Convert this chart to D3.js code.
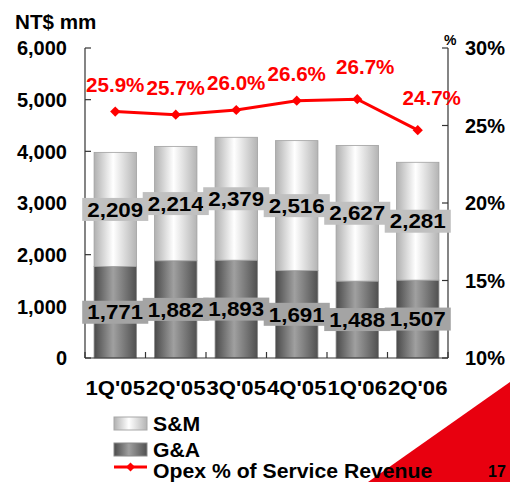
<!DOCTYPE html>
<html><head><meta charset="utf-8">
<script src="https://cdn.jsdelivr.net/npm/d3@7"></script>
<style>
html,body{margin:0;padding:0;background:#fff;}
svg{display:block;font-family:"Liberation Sans",Arial,sans-serif;font-weight:bold;}
</style></head>
<body>
<svg id="c" width="510" height="482"></svg>
<script>
// ---- data ----
const categories = ["1Q'05","2Q'05","3Q'05","4Q'05","1Q'06","2Q'06"];
const gaValues = [1771,1882,1893,1691,1488,1507];
const smValues = [2209,2214,2379,2516,2627,2281];
const opexPct = [25.9,25.7,26.0,26.6,26.7,24.7];
const leftTicks = [0,1000,2000,3000,4000,5000,6000];
const rightTicks = [10,15,20,25,30];

// ---- layout ----
const L = 85, R = 448, T = 48, B = 358;
const pctLabelDx = [0,0,0,0,8,14];
const pctLabelDy = [-20,-20,-20,-20,-25,-25];

const svg = d3.select("#c");
const defs = svg.append("defs");
function grad(id, stops){
  const g = defs.append("linearGradient").attr("id",id).attr("x1","0").attr("x2","1").attr("y1","0").attr("y2","0");
  stops.forEach(s=>g.append("stop").attr("offset",s[0]).attr("stop-color",s[1]));
}
grad("gSM",[[0,"#b0b0b0"],[0.45,"#ffffff"],[1,"#b4b4b4"]]);
grad("gGA",[[0,"#4a4a4a"],[0.45,"#a0a0a0"],[1,"#505050"]]);

function stretch(sel, f){
  sel.each(function(){
    const n = this; const w = n.getComputedTextLength();
    d3.select(n).attr("textLength", w*f).attr("lengthAdjust","spacingAndGlyphs");
  });
}

const x = d3.scaleBand().domain(categories).range([L,R]).paddingInner(0.3).paddingOuter(0.15);
const yL = d3.scaleLinear().domain([0,6000]).range([B,T]);
const yR = d3.scaleLinear().domain([10,30]).range([B,T]);

// red corner triangle
svg.append("path").attr("d",`M368,482 L510,382 L510,482 Z`).attr("fill","#e8000f");

// bars
const rows = categories.map((c,i)=>({c, ga:gaValues[i], sm:smValues[i], pct:opexPct[i], i}));
const bars = svg.append("g");
bars.selectAll("rect.ga").data(rows).join("rect")
  .attr("x",d=>x(d.c)).attr("width",x.bandwidth())
  .attr("y",d=>yL(d.ga)).attr("height",d=>yL(0)-yL(d.ga))
  .attr("fill","url(#gGA)").attr("stroke","#8a8a8a").attr("stroke-width",0.8);
bars.selectAll("rect.sm").data(rows).join("rect")
  .attr("x",d=>x(d.c)).attr("width",x.bandwidth())
  .attr("y",d=>yL(d.ga+d.sm)).attr("height",d=>yL(d.ga)-yL(d.ga+d.sm))
  .attr("fill","url(#gSM)").attr("stroke","#a0a0a0").attr("stroke-width",0.8);

// axes
const axisG = svg.append("g").attr("stroke","#333").attr("stroke-width",1.2);
axisG.append("line").attr("x1",L).attr("x2",L).attr("y1",T).attr("y2",B);
axisG.append("line").attr("x1",R).attr("x2",R).attr("y1",T).attr("y2",B);
axisG.append("line").attr("x1",L).attr("x2",R).attr("y1",B).attr("y2",B);
leftTicks.forEach(t=>axisG.append("line").attr("x1",L).attr("x2",L+6).attr("y1",yL(t)).attr("y2",yL(t)));
rightTicks.forEach(t=>axisG.append("line").attr("x1",R-6).attr("x2",R).attr("y1",yR(t)).attr("y2",yR(t)));
d3.range(categories.length+1).forEach(k=>{
  const xx = L + k*(R-L)/categories.length;
  axisG.append("line").attr("x1",xx).attr("x2",xx).attr("y1",B-6).attr("y2",B);
});

svg.append("g").selectAll("text").data(leftTicks).join("text")
  .attr("x",67).attr("y",d=>yL(d)).attr("dy","0.36em").attr("text-anchor","end")
  .attr("font-size",20).text(d=>d3.format(",")(d));
svg.append("g").selectAll("text").data(rightTicks).join("text")
  .attr("x",465).attr("y",d=>yR(d)).attr("dy","0.36em")
  .attr("font-size",20).text(d=>d+"%");
stretch(svg.append("text").attr("x",15).attr("y",29).attr("font-size",20).text("NT$ mm"), 1.03);
svg.append("text").attr("x",444).attr("y",45).attr("font-size",14).text("%");

// category labels
svg.append("g").selectAll("text").data(categories).join("text")
  .attr("x",d=>x(d)+x.bandwidth()/2).attr("y",395).attr("text-anchor","middle")
  .attr("font-size",20).attr("textLength",59.5).attr("lengthAdjust","spacingAndGlyphs").text(d=>d);

// value labels with boxes
function boxLabel(g, cx, cy, txt, fill){
  const t = g.append("text").attr("x",cx).attr("y",cy).attr("dy","0.36em").attr("text-anchor","middle")
    .attr("font-size",20).attr("fill","#000").text(txt);
  stretch(t, 1.12);
  const w = +t.attr("textLength");
  g.insert("rect","text").attr("x",cx-w/2-5).attr("y",cy-11.5).attr("width",w+10).attr("height",23).attr("fill",fill);
}
rows.forEach(d=>{
  const cx = x(d.c)+x.bandwidth()/2;
  boxLabel(svg.append("g"), cx, (yL(d.ga+d.sm)+yL(d.ga))/2, d3.format(",")(d.sm), "#c0c0c0");
  boxLabel(svg.append("g"), cx, (yL(d.ga)+yL(0))/2, d3.format(",")(d.ga), "#a4a4a4");
});

// opex line
const line = d3.line().x(d=>x(d.c)+x.bandwidth()/2).y(d=>yR(d.pct));
svg.append("path").datum(rows).attr("d",line).attr("fill","none").attr("stroke","#ff0000").attr("stroke-width",3);
svg.append("g").selectAll("path").data(rows).join("path")
  .attr("d",d3.symbol(d3.symbolSquare,52)())
  .attr("transform",d=>`translate(${x(d.c)+x.bandwidth()/2},${yR(d.pct)}) rotate(45)`)
  .attr("fill","#ff0000");
stretch(svg.append("g").selectAll("text").data(rows).join("text")
  .attr("x",d=>x(d.c)+x.bandwidth()/2+pctLabelDx[d.i]).attr("y",d=>yR(d.pct)+pctLabelDy[d.i])
  .attr("text-anchor","middle").attr("font-size",20).attr("fill","#ff0000")
  .text(d=>d.pct.toFixed(1)+"%"), 1.03);

// legend
const lg = svg.append("g");
lg.append("rect").attr("x",114).attr("y",417).attr("width",33).attr("height",13).attr("fill","url(#gSM)").attr("stroke","#a8a8a8");
stretch(lg.append("text").attr("x",153).attr("y",431).attr("font-size",20).text("S&M"), 1.06);
lg.append("rect").attr("x",114).attr("y",443).attr("width",33).attr("height",13).attr("fill","url(#gGA)").attr("stroke","#8a8a8a");
stretch(lg.append("text").attr("x",153).attr("y",457).attr("font-size",20).text("G&A"), 1.06);
lg.append("line").attr("x1",114).attr("x2",147).attr("y1",467).attr("y2",467).attr("stroke","#ff0000").attr("stroke-width",3);
lg.append("path").attr("d",d3.symbol(d3.symbolSquare,40)()).attr("transform","translate(130.5,467) rotate(45)").attr("fill","#ff0000");
stretch(lg.append("text").attr("x",153).attr("y",478).attr("font-size",20).text("Opex % of Service Revenue"), 1.06);
svg.append("text").attr("x",488).attr("y",477).attr("font-size",16).text("17");
</script>
</body></html>
